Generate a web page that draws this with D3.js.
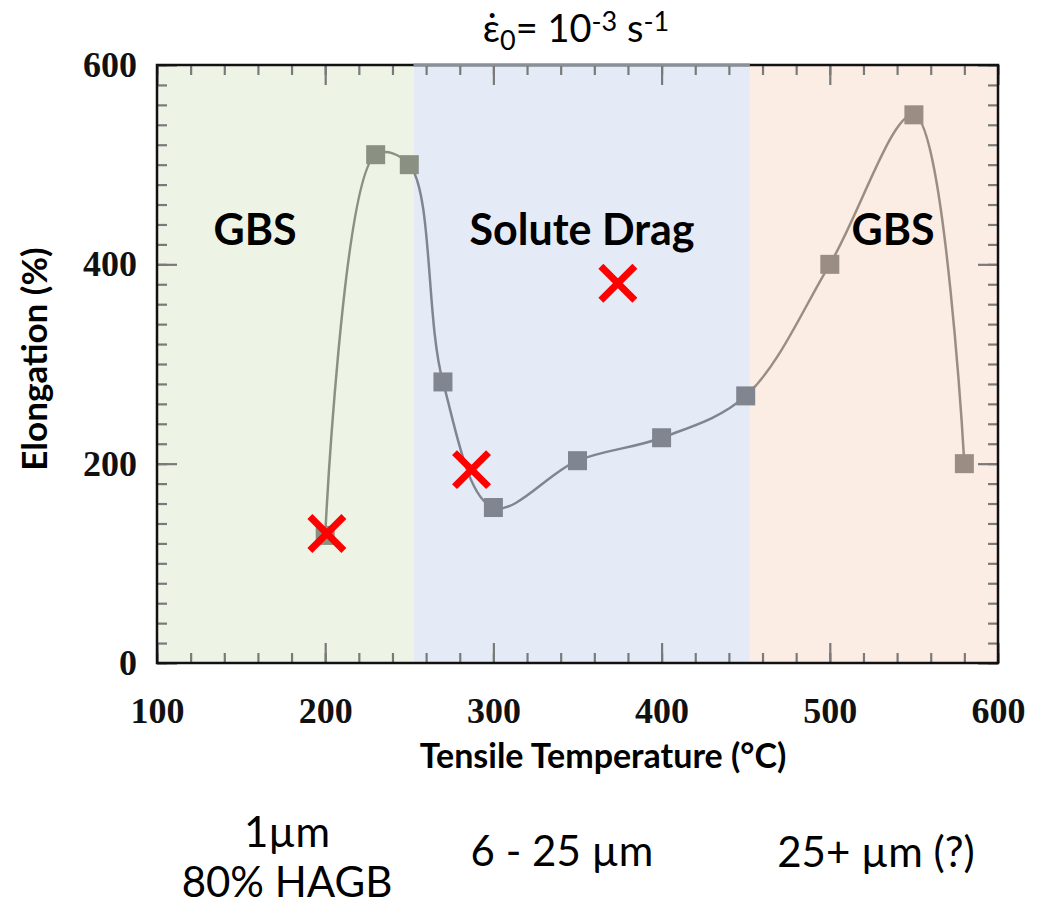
<!DOCTYPE html>
<html>
<head>
<meta charset="utf-8">
<script src="https://cdn.jsdelivr.net/npm/d3@7"></script>
<style>
  body { margin: 0; background: #fff; }
  svg { display: block; }
  .sans { font-family: Lato, "Open Sans", sans-serif; }
  .serif { font-family: "Liberation Serif", "DejaVu Serif", serif; font-weight: bold; }
</style>
</head>
<body>
<svg id="chart" width="1038" height="906"></svg>
<script>
// data
const temps = [200, 230, 250, 270, 300, 350, 400, 450, 500, 550, 580];
const elong = [128, 510, 500, 282, 156, 203, 226, 268, 400, 550, 200];
const crossT = [201, 287, 374];
const crossE = [130, 194, 381];
const xTicks = [100, 200, 300, 400, 500, 600];
const yTicks = [0, 200, 400, 600];
const regionEdges = [100, 252.5, 452.5, 600];
const regionNames = ['GBS', 'Solute Drag', 'GBS'];
const grainNotes = [['1µm', '80% HAGB'], ['6 - 25 µm'], ['25+ µm (?)']];

const regionFill = ['#edf4e6', '#e5ebf6', '#fbede3'];
const regionInk  = ['#8b9182', '#80858f', '#9a8d84'];

const svg = d3.select('#chart');
const x = d3.scaleLinear().domain([100, 600]).range([157, 998]);
const y = d3.scaleLinear().domain([0, 600]).range([663, 65]);

// region backgrounds
const regions = regionNames.map((n, i) => ({ name: n, x0: regionEdges[i], x1: regionEdges[i + 1], i }));
svg.selectAll('.region').data(regions).enter().append('rect')
  .attr('x', d => x(d.x0)).attr('width', d => x(d.x1) - x(d.x0))
  .attr('y', y(600)).attr('height', y(0) - y(600))
  .attr('fill', d => regionFill[d.i]);

// clip per region so the line picks up the tint
const defs = svg.append('defs');
regions.forEach(r => {
  defs.append('clipPath').attr('id', 'clip' + r.i)
    .append('rect')
    .attr('x', x(r.x0)).attr('width', x(r.x1) - x(r.x0))
    .attr('y', 0).attr('height', 906);
});

// axes: minor ticks then major ticks, pointing inwards
const minorX = d3.range(100, 601, 20);
const minorY = d3.range(0, 601, 20);
const tickCol = '#7a7a7a';

function styleAxis(g) {
  g.selectAll('.tick line').attr('stroke', tickCol).attr('stroke-width', 2.2);
  g.select('.domain').remove();
}

svg.append('g').attr('transform', `translate(0,${y(0)})`)
  .call(d3.axisBottom(x).tickValues(minorX).tickSize(-10).tickFormat('')).call(styleAxis);
svg.append('g').attr('transform', `translate(0,${y(600)})`)
  .call(d3.axisTop(x).tickValues(minorX).tickSize(-10).tickFormat('')).call(styleAxis);
svg.append('g').attr('transform', `translate(${x(100)},0)`)
  .call(d3.axisLeft(y).tickValues(minorY).tickSize(-10).tickFormat('')).call(styleAxis);
svg.append('g').attr('transform', `translate(${x(600)},0)`)
  .call(d3.axisRight(y).tickValues(minorY).tickSize(-10).tickFormat('')).call(styleAxis);

const xAxis = svg.append('g').attr('transform', `translate(0,${y(0)})`)
  .call(d3.axisBottom(x).tickValues(xTicks).tickSize(-20).tickPadding(34).tickFormat(d3.format('d')))
  .call(styleAxis);
svg.append('g').attr('transform', `translate(0,${y(600)})`)
  .call(d3.axisTop(x).tickValues(xTicks).tickSize(-20).tickFormat('')).call(styleAxis);
const yAxis = svg.append('g').attr('transform', `translate(${x(100)},0)`)
  .call(d3.axisLeft(y).tickValues(yTicks).tickSize(-20).tickPadding(20).tickFormat(d3.format('d')))
  .call(styleAxis);
svg.append('g').attr('transform', `translate(${x(600)},0)`)
  .call(d3.axisRight(y).tickValues(yTicks).tickSize(-20).tickFormat('')).call(styleAxis);

[xAxis, yAxis].forEach(g => g.selectAll('text')
  .attr('class', 'serif').attr('font-size', 36).attr('fill', '#111'));

// frame
svg.append('rect')
  .attr('x', x(100)).attr('y', y(600))
  .attr('width', x(600) - x(100)).attr('height', y(0) - y(600))
  .attr('fill', 'none').attr('stroke', '#111').attr('stroke-width', 2.5);
// top edge looks washed out over the blue band
svg.append('line')
  .attr('x1', x(regionEdges[1])).attr('x2', x(regionEdges[2]))
  .attr('y1', y(600)).attr('y2', y(600))
  .attr('stroke', '#8a8f98').attr('stroke-width', 3);

// smooth line, drawn once per region with its tint
const pts = temps.map((t, i) => [t, elong[i]]);
const line = d3.line().x(d => x(d[0])).y(d => y(d[1])).curve(d3.curveCatmullRom.alpha(0.5));
regions.forEach(r => {
  svg.append('path').datum(pts)
    .attr('clip-path', `url(#clip${r.i})`)
    .attr('d', line)
    .attr('fill', 'none').attr('stroke', regionInk[r.i]).attr('stroke-width', 2.5);
});

// square markers
const regionOf = t => regions.findIndex(r => t >= r.x0 && t < r.x1);
const ms = 19;
svg.selectAll('.pt').data(pts).enter().append('rect')
  .attr('x', d => x(d[0]) - ms / 2).attr('y', d => y(d[1]) - ms / 2)
  .attr('width', ms).attr('height', ms)
  .attr('fill', d => regionInk[Math.max(0, regionOf(d[0]))]);

// red crosses
const cs = 17;
crossT.forEach((t, i) => {
  const cx = x(t), cy = y(crossE[i]);
  svg.append('path')
    .attr('d', `M${cx - cs},${cy - cs}L${cx + cs},${cy + cs}M${cx - cs},${cy + cs}L${cx + cs},${cy - cs}`)
    .attr('stroke', '#ff0000').attr('stroke-width', 7).attr('fill', 'none');
});

// region labels
svg.selectAll('.rlab').data(regions).enter().append('text')
  .attr('class', 'sans')
  .attr('x', (d, i) => [255, 582, 893][i]).attr('y', 245)
  .attr('text-anchor', 'middle').attr('font-size', 43).attr('font-weight', 'bold')
  .attr('fill', '#000').text(d => d.name);

// axis titles
svg.append('text').attr('class', 'sans')
  .attr('x', 603).attr('y', 768).attr('text-anchor', 'middle')
  .attr('font-size', 34).attr('font-weight', 'bold').text('Tensile Temperature (°C)');
svg.append('text').attr('class', 'sans')
  .attr('transform', 'translate(47,359) rotate(-90)').attr('text-anchor', 'middle')
  .attr('font-size', 35).attr('font-weight', 'bold').text('Elongation (%)');

// strain rate title
const title = svg.append('text').attr('class', 'sans')
  .attr('x', 576).attr('y', 42).attr('text-anchor', 'middle').attr('font-size', 38);
title.append('tspan').text('ε\u0307');
title.append('tspan').attr('baseline-shift', '-30%').attr('font-size', 27).text('0');
title.append('tspan').text('= 10');
title.append('tspan').attr('baseline-shift', '40%').attr('font-size', 27).text('-3');
title.append('tspan').text(' s');
title.append('tspan').attr('baseline-shift', '40%').attr('font-size', 27).text('-1');

// grain size notes
const noteX = [287, 562, 876];
const noteY = [[847, 897], [866], [867]];
grainNotes.forEach((lines, i) => {
  lines.forEach((s, j) => {
    svg.append('text').attr('class', 'sans')
      .attr('x', noteX[i]).attr('y', noteY[i][j]).attr('text-anchor', 'middle')
      .attr('font-size', 42).attr('fill', '#000').text(s);
  });
});
</script>
</body>
</html>
